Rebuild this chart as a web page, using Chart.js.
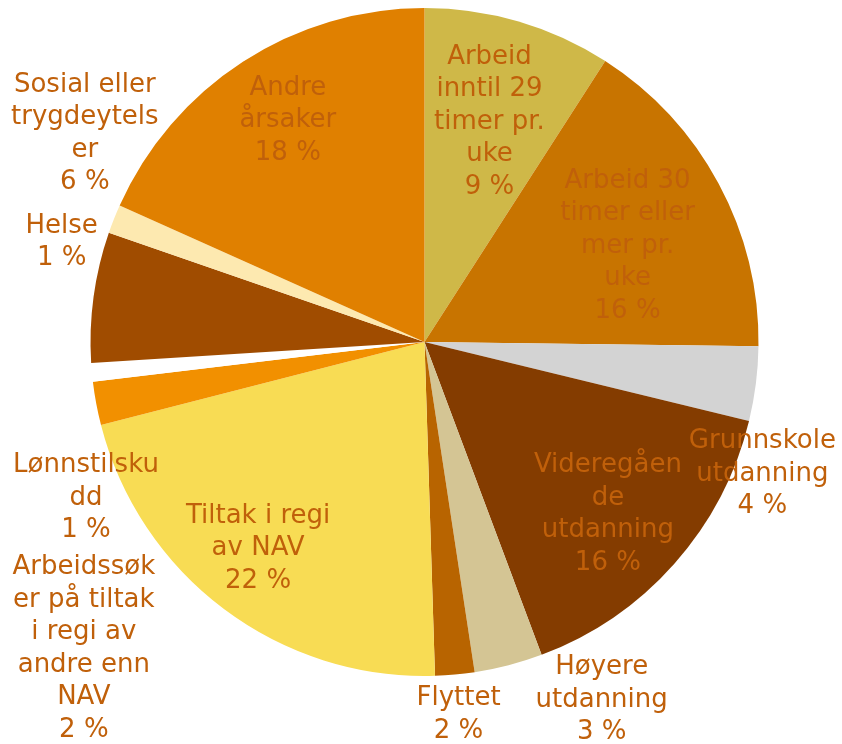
<!DOCTYPE html>
<html><head><meta charset="utf-8">
<script src="https://cdn.jsdelivr.net/npm/chart.js@4.4.0/dist/chart.umd.min.js"></script>
<style>html,body{margin:0;padding:0;background:#fff}canvas{display:block}</style>
</head><body>
<canvas id="c" width="842" height="744"></canvas>
<script>
// ---- data ----
const categories = [
  "Arbeid inntil 29 timer pr. uke",
  "Arbeid 30 timer eller mer pr. uke",
  "Grunnskole utdanning",
  "Videregående utdanning",
  "Høyere utdanning",
  "Flyttet",
  "Tiltak i regi av NAV",
  "Arbeidssøker på tiltak i regi av andre enn NAV",
  "Lønnstilskudd",
  "Sosial eller trygdeytelser",
  "Helse",
  "Andre årsaker"
];
// category text as wrapped in the picture
const labelLines = [
  ["Arbeid","inntil 29","timer pr.","uke"],
  ["Arbeid 30","timer eller","mer pr.","uke"],
  ["Grunnskole","utdanning"],
  ["Videregåen","de","utdanning"],
  ["Høyere","utdanning"],
  ["Flyttet"],
  ["Tiltak i regi","av NAV"],
  ["Arbeidssøk","er på tiltak","i regi av","andre enn","NAV"],
  ["Lønnstilsku","dd"],
  ["Sosial eller","trygdeytels","er"],
  ["Helse"],
  ["Andre","årsaker"]
];
const values = [9.1, 16.1, 3.6, 15.5, 3.3, 1.9, 21.5, 2.1, 0.9, 6.3, 1.4, 18.3];

// ---- styles ----
const colors = ["#CFB848","#C87400","#D3D3D3","#843C00","#D4C594","#B86400",
                "#F8DC54","#F29000","#FFFFFF","#A04C00","#FDE9B0","#E08000"];
const textColor = "#C0600A";
const labelRadius = [0.69, 0.67, 1.08, 0.75, 1.12, 1.12, 0.795, 1.12, 1.12, 1.12, 1.12, 0.78];
const labelShift = [[0,1],[6,10],[-20,87],[-4,6],[83,-4],[0,0],[-7,-6],[27,238],[34,122],[31,-158],[-15,38],[5,-3]];

const total = values.reduce((a,b)=>a+b,0);

const labelPlugin = {
  id: 'sliceLabels',
  afterDatasetsDraw(chart) {
    const ctx = chart.ctx;
    const meta = chart.getDatasetMeta(0);
    ctx.save();
    ctx.font = '26px "DejaVu Sans", Verdana, sans-serif';
    ctx.fillStyle = textColor;
    ctx.textAlign = 'center';
    ctx.textBaseline = 'middle';
    const lh = 32.5;
    meta.data.forEach((arc, i) => {
      const p = arc.getProps(['x','y','startAngle','endAngle','outerRadius'], true);
      const mid = (p.startAngle + p.endAngle) / 2;
      const r = p.outerRadius * labelRadius[i];
      const cx = p.x + Math.cos(mid) * r + labelShift[i][0];
      const cy = p.y + Math.sin(mid) * r + labelShift[i][1];
      const lines = labelLines[i].concat([Math.round(values[i] / total * 100) + " %"]);
      const top = cy - (lines.length - 1) * lh / 2;
      lines.forEach((t, k) => ctx.fillText(t, cx, top + k * lh));
    });
    ctx.restore();
  }
};

new Chart(document.getElementById('c'), {
  type: 'pie',
  data: {
    labels: categories,
    datasets: [{ data: values, backgroundColor: colors, borderWidth: 0 }]
  },
  options: {
    responsive: false,
    animation: false,
    layout: { padding: { top: 8, bottom: 68, left: 90, right: 83 } },
    plugins: { legend: { display: false }, tooltip: { enabled: false } }
  },
  plugins: [labelPlugin]
});
</script>
</body></html>
